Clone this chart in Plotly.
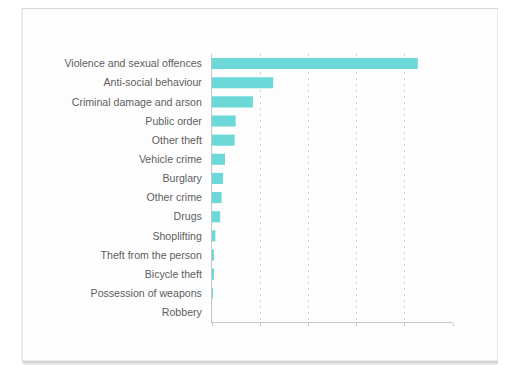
import plotly.graph_objects as go

categories = [
    "Violence and sexual offences", "Anti-social behaviour", "Criminal damage and arson",
    "Public order", "Other theft", "Vehicle crime", "Burglary", "Other crime", "Drugs",
    "Shoplifting", "Theft from the person", "Bicycle theft", "Possession of weapons", "Robbery",
]
values = [427, 127, 85, 49, 47, 27, 23, 20, 17, 7, 4, 4, 1, 0]

# page has an 8px body margin, so the figure is drawn offset by 8px
OFF = 8
W, H = 506 - OFF, 365 - OFF
L, R, T, B = 212 - OFF, 53, 54 - OFF, 43
pw, ph = W - L - R, H - T - B

def px(x):
    return (x - OFF - L) / pw

def py(y):
    return (H - B - (y - OFF)) / ph

fig = go.Figure(go.Bar(
    x=values, y=categories, orientation="h",
    marker=dict(color="#6cd8d8", line=dict(width=0)),
    hoverinfo="x+y",
))

shapes = []
# card shadow layers
for i, c in enumerate(["#ededed", "#e2e2e2", "#d4d4d4"]):
    off = 3 - i
    shapes.append(dict(type="rect", xref="paper", yref="paper", layer="below",
                       x0=px(22 + off * 0.5), x1=px(499 + off), y0=py(362 + off), y1=py(8.5),
                       line=dict(width=0), fillcolor=c))
shapes.append(dict(type="rect", xref="paper", yref="paper", layer="below",
                   x0=px(22), x1=px(498), y0=py(361), y1=py(8.5),
                   line=dict(color="#d6d6d6", width=1), fillcolor="#fdfdfd"))

fig.update_layout(
    width=W, height=H,
    margin=dict(l=L, r=R, t=T, b=B),
    paper_bgcolor="white", plot_bgcolor="rgba(0,0,0,0)",
    bargap=0.42,
    showlegend=False,
    shapes=shapes,
    font=dict(family="Liberation Sans, Arial, sans-serif", size=10.6, color="#5e5e5e"),
    xaxis=dict(range=[0, 500], dtick=100, showticklabels=False,
               showgrid=True, gridcolor="#d0d0d0", griddash="2px,4px", gridwidth=1,
               zeroline=False, showline=True, linecolor="#c8c8c8", linewidth=1,
               ticks="outside", ticklen=3, tickcolor="#c8c8c8", fixedrange=True),
    yaxis=dict(autorange="reversed", showgrid=False, zeroline=False,
               showline=True, linecolor="#c8c8c8", linewidth=1,
               ticks="", ticklabelstandoff=7, tickfont=dict(size=10.6, color="#5e5e5e"),
               fixedrange=True),
)

fig.write_html("out.html")
